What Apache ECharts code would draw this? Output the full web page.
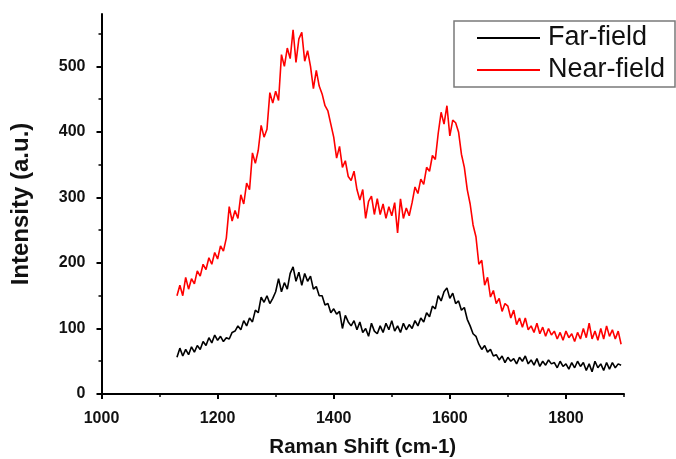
<!DOCTYPE html>
<html>
<head>
<meta charset="utf-8">
<script src="https://cdn.jsdelivr.net/npm/echarts@6/dist/echarts.min.js"></script>
<style>
  html, body { margin: 0; padding: 0; background: #ffffff; }
  #chart { width: 676px; height: 459px; }
</style>
</head>
<body>
<div id="chart"></div>
<script>
// Raman shift (cm-1)
const ramanShift = [
  1130,1135,1140,1145,1150,1155,1160,1165,1170,1175,
  1180,1185,1190,1195,1200,1205,1210,1215,1220,1225,
  1230,1235,1240,1245,1250,1255,1260,1265,1270,1275,
  1280,1285,1290,1295,1300,1305,1310,1315,1320,1325,
  1330,1335,1340,1345,1350,1355,1360,1365,1370,1375,
  1380,1385,1390,1395,1400,1405,1410,1415,1420,1425,
  1430,1435,1440,1445,1450,1455,1460,1465,1470,1475,
  1480,1485,1490,1495,1500,1505,1510,1515,1520,1525,
  1530,1535,1540,1545,1550,1555,1560,1565,1570,1575,
  1580,1585,1590,1595,1600,1605,1610,1615,1620,1625,
  1630,1635,1640,1645,1650,1655,1660,1665,1670,1675,
  1680,1685,1690,1695,1700,1705,1710,1715,1720,1725,
  1730,1735,1740,1745,1750,1755,1760,1765,1770,1775,
  1780,1785,1790,1795,1800,1805,1810,1815,1820,1825,
  1830,1835,1840,1845,1850,1855,1860,1865,1870,1875,
  1880,1885,1890,1895
];

const farField = [
  56,70,58,68,60,72,64,74,68,80,
  74,86,78,90,82,88,80,86,84,94,
  96,104,98,112,104,116,110,128,124,148,
  140,150,138,146,156,176,156,170,160,184,
  194,172,186,166,184,172,180,160,164,150,
  150,136,138,124,130,122,126,100,120,110,
  104,112,98,110,94,100,88,108,96,92,
  104,94,108,98,112,96,104,94,108,98,
  106,100,112,104,116,110,124,118,134,130,
  150,142,156,162,146,154,138,142,128,132,
  114,104,92,88,76,68,74,64,68,58,
  60,52,58,48,56,50,54,46,56,50,
  58,46,52,44,54,42,50,44,52,46,
  48,40,50,42,46,38,48,40,50,42,
  48,36,46,34,50,40,46,36,48,38,
  48,40,46,44
];

const nearField = [
  150,166,150,178,160,176,168,188,180,198,
  190,208,198,216,206,226,218,238,286,264,
  280,268,304,290,322,312,368,352,372,410,
  392,404,460,444,462,448,518,500,528,512,
  556,506,542,552,508,524,500,466,494,470,
  458,440,432,412,392,360,378,346,356,332,
  326,340,312,296,312,268,294,302,274,298,
  274,290,268,286,272,292,246,298,268,284,
  272,292,316,306,328,320,346,340,364,358,
  398,430,412,440,394,418,414,400,366,346,
  312,290,258,240,198,204,166,178,148,158,
  138,146,126,138,134,116,128,106,116,102,
  116,98,104,94,108,92,102,88,100,90,
  96,84,94,82,96,86,92,80,94,84,
  100,86,108,84,96,82,100,84,104,88,
  98,84,96,76
];

const xMajorTicks = [1000, 1200, 1400, 1600, 1800];
const xMinorTicks = [1100, 1300, 1500, 1700, 1900];
const yMajorTicks = [0, 100, 200, 300, 400, 500];
const yMinorTicks = [50, 150, 250, 350, 450, 550];

const FONT = 'Liberation Sans, Arial, Helvetica, sans-serif';

function zip(xs, ys) {
  return xs.map((x, i) => [x, ys[i]]);
}

const chart = echarts.init(document.getElementById('chart'), null, { renderer: 'canvas' });

const option = {
  backgroundColor: '#ffffff',
  animation: false,
  grid: { left: 101.5, right: 52, top: 14, bottom: 65, containLabel: false, outerBoundsMode: 'none' },
  legend: {
    orient: 'vertical',
    left: 477,
    top: 24.5,
    itemWidth: 63,
    itemHeight: 2,
    itemGap: 5,
    padding: 0,
    icon: 'rect',
    textStyle: { fontFamily: FONT, fontSize: 27, color: '#111', lineHeight: 27, padding: [0, 0, 0, 3] },
    data: ['Far-field', 'Near-field']
  },
  graphic: [{
    type: 'rect',
    shape: { x: 454, y: 21, width: 221, height: 66 },
    style: { fill: 'none', stroke: '#7a7a7a', lineWidth: 1.5 },
    z: 10
  }],
  xAxis: [{
    type: 'value',
    min: 1000,
    max: 1900,
    interval: 200,
    name: 'Raman Shift (cm-1)',
    nameLocation: 'middle',
    nameGap: 43,
    nameTextStyle: { fontFamily: FONT, fontSize: 20.5, fontWeight: 'bold', color: '#111' },
    axisLine: { show: true, onZero: false, lineStyle: { color: '#000', width: 2 } },
    axisTick: { show: true, length: 5, lineStyle: { color: '#000', width: 2 }, customValues: xMajorTicks },
    axisLabel: {
      fontFamily: FONT, fontSize: 16, fontWeight: 'bold', color: '#111', margin: 17,
      customValues: xMajorTicks,
      formatter: function (v) { return String(v); }
    },
    splitLine: { show: false }
  }, {
    type: 'value',
    min: 1000,
    max: 1900,
    position: 'bottom',
    axisLine: { show: false },
    axisTick: { show: true, length: 3, lineStyle: { color: '#000', width: 1.5 }, customValues: xMinorTicks },
    axisLabel: { show: false },
    splitLine: { show: false }
  }],
  yAxis: [{
    type: 'value',
    min: 0,
    max: 580,
    name: 'Intensity (a.u.)',
    nameLocation: 'middle',
    nameGap: 68,
    nameRotate: 90,
    nameTextStyle: { fontFamily: FONT, fontSize: 24, fontWeight: 'bold', color: '#111' },
    axisLine: { show: true, onZero: false, lineStyle: { color: '#000', width: 2 } },
    axisTick: { show: true, length: 5, lineStyle: { color: '#000', width: 2 }, customValues: yMajorTicks },
    axisLabel: {
      fontFamily: FONT, fontSize: 16, fontWeight: 'bold', color: '#111', margin: 16,
      customValues: yMajorTicks,
      formatter: function (v) { return String(v); }
    },
    splitLine: { show: false }
  }, {
    type: 'value',
    min: 0,
    max: 580,
    position: 'left',
    axisLine: { show: false },
    axisTick: { show: true, length: 3, lineStyle: { color: '#000', width: 1.5 }, customValues: yMinorTicks },
    axisLabel: { show: false },
    splitLine: { show: false }
  }],
  series: [{
    name: 'Far-field',
    type: 'line',
    data: zip(ramanShift, farField),
    symbol: 'none',
    lineStyle: { color: '#000000', width: 1.6 },
    itemStyle: { color: '#000000' },
    z: 3
  }, {
    name: 'Near-field',
    type: 'line',
    data: zip(ramanShift, nearField),
    symbol: 'none',
    lineStyle: { color: '#ff0000', width: 1.6 },
    itemStyle: { color: '#ff0000' },
    z: 2
  }]
};

chart.setOption(option);
</script>
</body>
</html>
